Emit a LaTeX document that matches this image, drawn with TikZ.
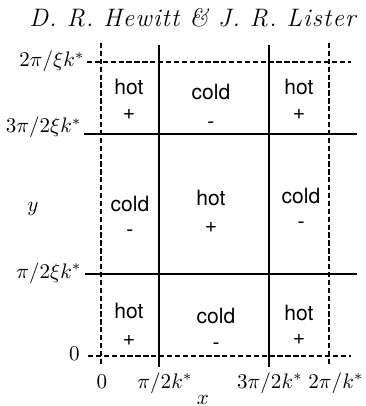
\documentclass[tikz,border=0pt]{standalone}
\usepackage{fontspec}
\newfontfamily\helv{TeX Gyre Heros}
\newfontfamily\titlefont[LetterSpace=4.5]{Latin Modern Roman 10 Italic}
\begin{document}
\begin{tikzpicture}[x=0.475pt,y=-0.475pt,
  solidl/.style={line width=1pt},
  dashl/.style={line width=0.95pt, dash pattern=on 2.5pt off 1.25pt},
  word/.style={font=\helv, inner sep=0pt, anchor=base},
  lab/.style={inner sep=0pt}]
\useasboundingbox (0,0) rectangle (366,406);
% title
\node[lab, anchor=base west, font=\fontsize{12}{14}\titlefont] (title) at (29,27) {D. R. Hewitt \& J. R. Lister};
% grid end points
\coordinate (h1a) at (87,62.5);  \coordinate (h1b) at (351,62.5);
\coordinate (h2a) at (84,134);   \coordinate (h2b) at (357,134);
\coordinate (h3a) at (85,274);   \coordinate (h3b) at (357,274);
\coordinate (h4a) at (88,356);   \coordinate (h4b) at (351,356);
\coordinate (v1a) at (100.5,43); \coordinate (v1b) at (100.5,366);
\coordinate (v2a) at (159,45);   \coordinate (v2b) at (159,367);
\coordinate (v3a) at (269,45);   \coordinate (v3b) at (269,367);
\coordinate (v4a) at (328.5,43); \coordinate (v4b) at (328.5,366);
\draw[dashl] (h1a) -- (h1b);
\draw[solidl] (h2a) -- (h2b);
\draw[solidl] (h3a) -- (h3b);
\draw[dashl] (h4a) -- (h4b);
\draw[dashl] (v1a) -- (v1b);
\draw[solidl] (v2a) -- (v2b);
\draw[solidl] (v3a) -- (v3b);
\draw[dashl] (v4a) -- (v4b);
% left labels
\node[lab, anchor=base east] (ly1) at (85,67) {$2\pi/\xi k^*$};
\node[lab, anchor=base east] (ly2) at (82,133) {$3\pi/2\xi k^*$};
\node[lab, anchor=base east] (ly3) at (82,278) {$\pi/2\xi k^*$};
\node[lab, anchor=base east] (ly4) at (80,360) {$0$};
\node[lab, anchor=base] (ylab) at (33,212) {$y$};
% bottom labels
\node[lab, anchor=base] (lx1) at (102,388) {$0$};
\node[lab, anchor=base] (lx2) at (165,388) {$\pi/2k^*$};
\node[lab, anchor=base] (lx3) at (270,388) {$3\pi/2k^*$};
\node[lab, anchor=base] (lx4) at (336,388) {$2\pi/k^*$};
\node[lab, anchor=base] (xlab) at (203,404) {$x$};
% top row
\node[word] (t1w) at (129,95) {hot};  \node[word] (t1s) at (129,119.5) {+};
\node[word] (t2w) at (211,100) {cold}; \node[word] (t2s) at (211,129) {-};
\node[word] (t3w) at (299,95) {hot};  \node[word] (t3s) at (299,120) {+};
% middle row
\node[word] (m1w) at (130,212) {cold}; \node[word] (m1s) at (130,236) {-};
\node[word] (m2w) at (211,205) {hot};  \node[word] (m2s) at (211,232) {+};
\node[word] (m3w) at (301,203) {cold}; \node[word] (m3s) at (301,228) {-};
% bottom row
\node[word] (b1w) at (129,318) {hot};  \node[word] (b1s) at (129,345) {+};
\node[word] (b2w) at (216,323) {cold}; \node[word] (b2s) at (216,349) {-};
\node[word] (b3w) at (299,320) {hot};  \node[word] (b3s) at (299,344) {+};
\end{tikzpicture}
\end{document}
